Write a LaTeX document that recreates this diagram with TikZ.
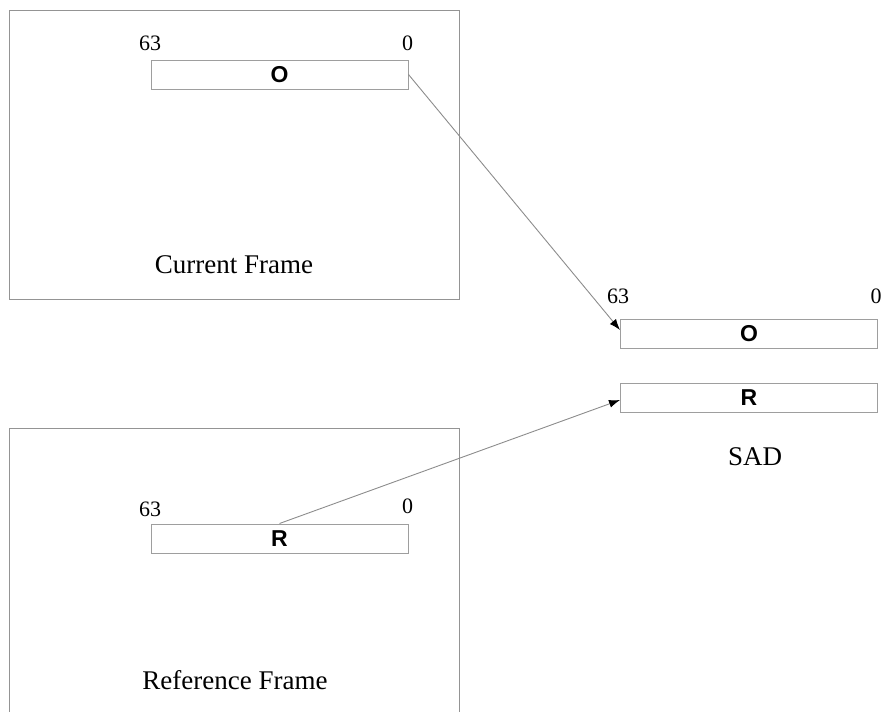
\documentclass[tikz,border=0pt]{standalone}
\usepackage{fontspec}
\setmainfont{Liberation Serif}
\newfontfamily\regfont{Liberation Sans Bold}
\usetikzlibrary{arrows.meta}

\begin{document}
\begin{tikzpicture}[x=1pt,y=-1pt,
  framebox/.style={draw=black!42, line width=1pt},
  reg/.style={draw=black!38, line width=1pt, fill=white,
    minimum width=257pt, minimum height=29pt, inner sep=0pt,
    font=\regfont\fontsize{23}{23}\selectfont},
  bitnum/.style={anchor=base, inner sep=0pt, font=\fontsize{22}{22}\selectfont},
  caption/.style={anchor=base, inner sep=0pt, font=\fontsize{27}{27}\selectfont},
  link/.style={draw=black!45, line width=0.9pt,
    -{Latex[length=11pt,width=8pt,color=black]}}]

\useasboundingbox (0,0) rectangle (881,712);

% current frame
\draw[framebox] (9,10) rectangle (459,299);
\node[reg] (ocur) at (279.5,74.5) {O};
\node[bitnum] (ocurhi) at (150,50) {63};
\node[bitnum] (ocurlo) at (407.5,50) {0};
\node[caption] (curcap) at (234,273) {Current Frame};

% reference frame (runs off the lower edge)
\draw[framebox] (9,720) -- (9,428) -- (459,428) -- (459,720);
\node[reg] (rref) at (279.5,538.5) {R};
\node[bitnum] (rrefhi) at (150,516) {63};
\node[bitnum] (rreflo) at (407.5,513) {0};
\node[caption] (refcap) at (235,689) {Reference Frame};

% SAD operand registers
\node[reg] (osad) at (749,333.5) {O};
\node[reg] (rsad) at (749,397.5) {R};
\node[bitnum] (osadhi) at (618,303) {63};
\node[bitnum] (osadlo) at (876,303) {0};
\node[caption] (sadcap) at (755,465) {SAD};

% data paths
\draw[link] (ocur.east) -- ([yshift=3.5pt]osad.west);
\draw[link] (rref.north) -- ([yshift=-2.5pt]rsad.west);
\end{tikzpicture}
\end{document}
